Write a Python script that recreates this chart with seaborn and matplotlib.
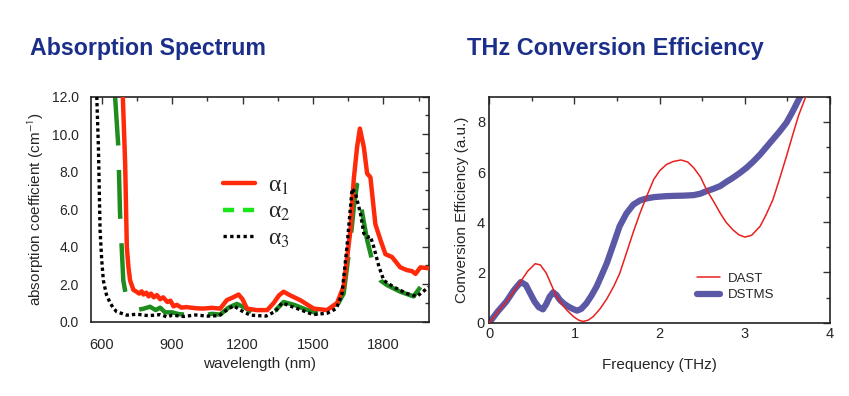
import numpy as np
import pandas as pd
import matplotlib
matplotlib.use("Agg")
import matplotlib.pyplot as plt
from matplotlib.ticker import MultipleLocator
import seaborn as sns

# ---------------- data: absorption spectrum ----------------
a1_wl = [690, 700, 707, 714, 721, 735, 748, 760, 770, 778, 790, 800, 810, 822, 835, 849, 862, 880, 893,
         906, 920, 940, 960, 1000, 1030, 1070, 1105, 1133, 1160, 1183,
         1200, 1219, 1260, 1305, 1333, 1355, 1375, 1404, 1446, 1503, 1560, 1603, 1631, 1660, 1674, 1688,
         1700, 1717, 1731, 1745, 1766, 1788, 1809, 1837, 1872, 1901, 1922, 1937, 1958, 1994]
a1_val = [12.0, 8.4, 4.0, 2.9, 2.2, 1.7, 1.6, 1.5, 1.62, 1.45, 1.55, 1.35, 1.5, 1.3, 1.42, 1.2, 1.3, 1.05, 1.12,
          0.82, 0.9, 0.75, 0.78, 0.72, 0.7, 0.74, 0.7, 1.15, 1.3, 1.45,
          1.2, 0.7, 0.62, 0.62, 1.0, 1.4, 1.6, 1.4, 1.15, 0.7, 0.62, 1.0, 1.9, 4.9, 7.6, 9.3,
          10.3, 9.3, 7.9, 7.7, 5.2, 4.35, 3.6, 3.45, 2.9, 2.75, 2.7, 2.55, 2.9, 2.85]

a2_wl = [657, 671, 678, 692, 704, 749, 780, 806, 830, 849, 870, 900, 930, 960, 1000, 1040, 1070, 1105,
         1140, 1176, 1210, 1247, 1300, 1340, 1375,
         1420, 1460, 1517, 1589, 1631, 1660, 1675, 1688, 1700, 1710, 1731, 1759, 1788, 1816, 1872, 1929,
         1964, 1994]
a2_val = [12.0, 9.3, 5.8, 2.2, 1.35, 0.62, 0.7, 0.8, 0.62, 0.75, 0.5, 0.5, 0.4, 0.38, 0.45, 0.35, 0.42, 0.38,
          0.75, 0.95, 0.75, 0.45, 0.38, 0.6, 1.05,
          0.9, 0.7, 0.45, 0.55, 1.5, 4.35, 6.2, 7.3, 6.8, 5.8, 4.35, 2.95, 2.2, 1.95, 1.6, 1.35,
          1.95, 1.8]

a3_wl = [579, 586, 593, 600, 607, 620, 636, 650, 664, 707, 750, 800, 850, 880, 900, 950, 1000, 1050, 1100,
         1130, 1162, 1190, 1233,
         1300, 1340, 1368, 1400, 1450, 1500, 1560, 1600, 1624, 1645, 1667, 1681, 1702, 1717, 1731, 1745,
         1759, 1781, 1802, 1844, 1901, 1943, 1994]
a3_val = [12.0, 9.3, 4.9, 3.3, 2.2, 1.45, 1.0, 0.72, 0.53, 0.35, 0.4, 0.32, 0.38, 0.25, 0.35, 0.28, 0.36, 0.3, 0.32,
          0.6, 0.85, 0.62, 0.35,
          0.3, 0.55, 1.0, 0.85, 0.62, 0.38, 0.45, 0.7, 1.5, 4.0, 7.1, 6.85, 5.8, 4.7, 4.5, 4.55,
          4.0, 2.95, 2.2, 1.85, 1.5, 1.35, 1.85]

# ---------------- data: THz conversion efficiency ----------------
dast_f = [0.0, 0.1, 0.2, 0.28, 0.36, 0.45, 0.54, 0.6, 0.67, 0.73, 0.79, 0.85, 0.91, 0.99, 1.05, 1.1, 1.16,
          1.22, 1.3, 1.38, 1.46, 1.53, 1.61, 1.69, 1.77, 1.85, 1.93, 2.0, 2.08, 2.16, 2.25, 2.33, 2.4,
          2.48, 2.55, 2.63, 2.71, 2.78, 2.86, 2.93, 3.0, 3.08, 3.18, 3.25, 3.33, 3.41, 3.49, 3.56, 3.63, 3.72]
dast_v = [0.0, 0.43, 0.84, 1.2, 1.6, 2.05, 2.35, 2.3, 1.97, 1.5, 1.04, 0.75, 0.5, 0.24, 0.1, 0.05, 0.1,
          0.24, 0.55, 0.95, 1.44, 1.95, 2.77, 3.6, 4.37, 5.05, 5.7, 6.05, 6.3, 6.42, 6.48, 6.4, 6.17,
          5.8, 5.3, 4.85, 4.37, 4.0, 3.7, 3.5, 3.41, 3.48, 3.84, 4.3, 4.9, 5.75, 6.64, 7.45, 8.24, 9.04]

dstms_f = [0.0, 0.1, 0.2, 0.29, 0.37, 0.43, 0.48, 0.53, 0.58, 0.63, 0.67, 0.71, 0.75, 0.79, 0.83, 0.88,
           0.93, 0.98, 1.03, 1.08, 1.14, 1.2, 1.26, 1.32, 1.38, 1.45, 1.53, 1.61, 1.69, 1.77, 1.85, 1.93,
           2.0, 2.08, 2.16, 2.28, 2.4, 2.48, 2.55, 2.63, 2.71, 2.78, 2.86, 2.94, 3.02, 3.1, 3.18, 3.25,
           3.33, 3.41, 3.49, 3.56, 3.65]
dstms_v = [0.0, 0.45, 0.84, 1.3, 1.62, 1.5, 1.17, 0.85, 0.62, 0.53, 0.75, 1.04, 1.21, 1.1, 0.9, 0.75,
           0.64, 0.55, 0.48, 0.55, 0.77, 1.08, 1.44, 1.9, 2.37, 3.05, 3.84, 4.35, 4.7, 4.87, 4.95, 5.0,
           5.02, 5.04, 5.05, 5.06, 5.08, 5.14, 5.24, 5.33, 5.44, 5.6, 5.77, 5.96, 6.17, 6.42, 6.7, 6.98,
           7.3, 7.62, 7.97, 8.4, 9.0]

# ---------------- style ----------------
sns.set_style("white")
plt.rcParams['font.family'] = ['Liberation Sans', 'DejaVu Sans']
plt.rcParams['mathtext.fontset'] = 'stix'

fig = plt.figure(figsize=(8.49, 3.96), dpi=100)
ax1 = fig.add_axes([0.1068, 0.1876, 0.3989, 0.5682])
ax2 = fig.add_axes([0.5763, 0.1851, 0.4013, 0.5707])

title_color = '#1b2f8a'
fig.text(30 / 849, 1 - 55 / 396, 'Absorption Spectrum', fontsize=16.7, fontweight='bold',
         color=title_color, ha='left', va='baseline')
fig.text(467 / 849, 1 - 55 / 396, 'THz Conversion Efficiency', fontsize=16.9, fontweight='bold',
         color=title_color, ha='left', va='baseline')

red = '#ff2a0a'
dgreen = '#1f8c1f'
# left plot
sns.lineplot(x=a1_wl, y=a1_val, ax=ax1, color=red, lw=3.2, label='α$_1$', zorder=3)
sns.lineplot(x=a2_wl, y=a2_val, ax=ax1, color=dgreen, lw=3.2, label='α$_2$', zorder=2)
sns.lineplot(x=a3_wl, y=a3_val, ax=ax1, color='black', lw=2.4, label='α$_3$', zorder=4)
lines = ax1.get_lines()
lines[1].set_dashes([11, 5.5])
lines[2].set_dashes([1, 0.9])

ax1.set_xlim(553, 1996)
ax1.set_ylim(0, 12)
ax1.xaxis.set_major_locator(MultipleLocator(300))
ax1.xaxis.set_minor_locator(MultipleLocator(150))
ax1.yaxis.set_major_locator(MultipleLocator(2))
ax1.yaxis.set_minor_locator(MultipleLocator(1))
ax1.set_yticks(np.arange(0, 12.1, 2))
ax1.set_yticklabels([f'{v:.1f}' for v in np.arange(0, 12.1, 2)])
ax1.set_xlabel('wavelength (nm)', fontsize=11, labelpad=3)
ax1.set_ylabel('absorption coefficient (cm$^{\\mathsf{-1}}$)', fontsize=11, labelpad=4)

leg = ax1.legend(loc='upper left', bbox_to_anchor=(0.357, 0.705), frameon=False,
                 prop={'family': 'Liberation Serif', 'size': 17},
                 handlelength=1.35, handletextpad=0.55, labelspacing=0.2, borderpad=0)
leg.get_lines()[1].set_color('#19e619')
leg.get_lines()[1].set_dashes([2.5, 2])
leg.get_lines()[2].set_dashes([1, 1])

# right plot
sns.lineplot(x=dast_f, y=dast_v, ax=ax2, color='#e8201e', lw=1.1, label='DAST', zorder=3)
sns.lineplot(x=dstms_f, y=dstms_v, ax=ax2, color='#5b58a6', lw=4.5, label='DSTMS', zorder=2,
             solid_capstyle='round')
ax2.set_xlim(0, 4)
ax2.set_ylim(0, 9)
ax2.xaxis.set_major_locator(MultipleLocator(1))
ax2.xaxis.set_minor_locator(MultipleLocator(0.5))
ax2.yaxis.set_major_locator(MultipleLocator(2))
ax2.yaxis.set_minor_locator(MultipleLocator(1))
ax2.set_xlabel('Frequency (THz)', fontsize=11, labelpad=12)
ax2.set_ylabel('Conversion Efficiency (a.u.)', fontsize=11, labelpad=6)
ax2.legend(loc='upper left', bbox_to_anchor=(0.59, 0.25), frameon=False, fontsize=9.5,
           handlelength=1.75, handletextpad=0.6, labelspacing=0.3, borderpad=0)

for ax in (ax1, ax2):
    ax.tick_params(which='both', direction='in', top=True, right=True, color='#333333')
    ax.tick_params(which='major', length=5, width=1)
    ax.tick_params(which='minor', length=3, width=1)
    for s in ax.spines.values():
        s.set_linewidth(1.2)
        s.set_color('#222222')
ax1.tick_params(axis='x', which='major', labelsize=10.5, pad=12)
ax1.tick_params(axis='y', which='major', labelsize=10, pad=8.5)
ax2.tick_params(axis='both', which='major', labelsize=10.5, pad=3)

fig.savefig('out.png', dpi=100)
